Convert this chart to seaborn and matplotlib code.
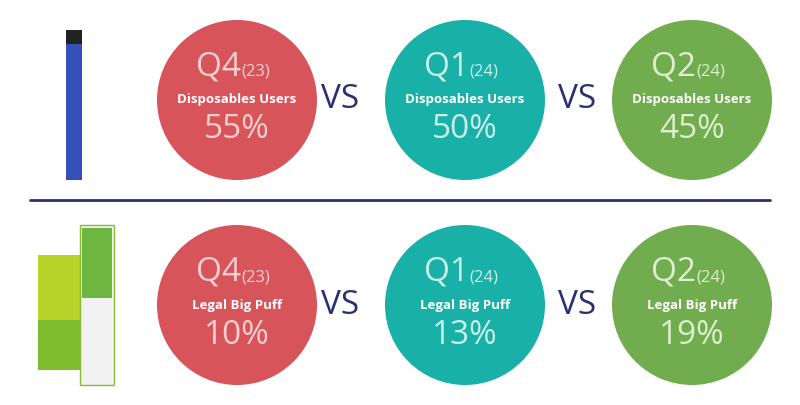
import matplotlib
matplotlib.use('Agg')
import matplotlib.pyplot as plt
import seaborn as sns
from matplotlib.patches import Circle, Rectangle

sns.set_theme(style='white')
plt.rcParams['font.family'] = ['Open Sans', 'DejaVu Sans']

# data
quarters = ['Q4', 'Q1', 'Q2']
years = ['(23)', '(24)', '(24)']
row_labels = ['Disposables Users', 'Legal Big Puff']
row_values = [[55, 50, 45], [10, 13, 19]]
colors = ['#D6545A', '#19B0A8', '#71AD4F']
text_colors = ['#F6CFCF', '#C9EEEA', '#DCEFD0']

fig = plt.figure(figsize=(8, 4.05), dpi=100)
ax = fig.add_axes([0, 0, 1, 1])
ax.set_xlim(0, 800)
ax.set_ylim(405, 0)
ax.axis('off')

xs = [237, 465, 692]
ys = [100, 305]
r = 80

for ri, (label, vals) in enumerate(zip(row_labels, row_values)):
    cy = ys[ri]
    for ci, cx in enumerate(xs):
        ax.add_patch(Circle((cx, cy), r, color=colors[ci], lw=0))
        ax.text(cx + 4, cy - 33, quarters[ci], ha='right', va='center',
                fontsize=24, color=text_colors[ci])
        ax.text(cx + 4, cy - 28, years[ci], ha='left', va='center',
                fontsize=12, color=text_colors[ci])
        ax.text(cx, cy, label, ha='center', va='center', fontsize=9.5,
                color='white', fontweight='bold')
        ax.text(cx, cy + 30, f'{vals[ci]}%', ha='center', va='center',
                fontsize=24, color=text_colors[ci])
    for vx in [340, 577]:
        ax.text(vx, cy, 'VS', ha='center', va='center', fontsize=24,
                color='#2B3170')

ax.plot([30, 770], [200, 200], color='#2B3170', lw=2)

# product sketches
ax.add_patch(Rectangle((66, 30), 16, 150, color='#3550B8', lw=0))
ax.add_patch(Rectangle((66, 30), 16, 14, color='#222222', lw=0))
ax.add_patch(Rectangle((38, 255), 44, 115, color='#B8D42A', lw=0))
ax.add_patch(Rectangle((38, 320), 44, 50, color='#7EBE2E', lw=0))
ax.add_patch(Rectangle((80, 225), 34, 160, color='#F2F2F2', ec='#88BB33', lw=1))
ax.add_patch(Rectangle((82, 228), 30, 70, color='#6DB640', lw=0))

fig.savefig('out.png', dpi=100)
